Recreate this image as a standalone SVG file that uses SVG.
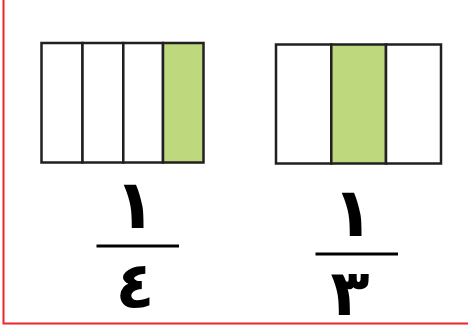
<svg xmlns="http://www.w3.org/2000/svg" width="468" height="330" viewBox="0 0 468 330">
<style>
.cell{fill:#ffffff;stroke:#231f20;stroke-width:2.5}
.fill{fill:#bed97d}
.bar{stroke:#000;stroke-width:3}
.num{font-family:"DejaVu Sans",sans-serif;font-size:64px;font-weight:bold;fill:#000;text-anchor:middle}
.one{font-size:68px}
.frame{stroke:#e8262c;stroke-width:2;fill:none}
</style>
<path class="frame" d="M3.5,0 V323.5 H468"/>
<g id="quarter">
<rect class="cell" x="41.5" y="43" width="41" height="119.5"/>
<rect class="cell" x="82.5" y="43" width="40.8" height="119.5"/>
<rect class="cell" x="123.3" y="43" width="39.7" height="119.5"/>
<rect class="cell fill" x="163" y="43" width="40.5" height="119.5"/>
</g>
<g id="third">
<rect class="cell" x="276" y="44.5" width="55.3" height="119"/>
<rect class="cell fill" x="331.3" y="44.5" width="54.7" height="119"/>
<rect class="cell" x="386" y="44.5" width="55" height="119"/>
</g>
<g id="frac-quarter">
<text class="num one" x="135" y="228">١</text>
<line class="bar" x1="96.5" y1="246" x2="179" y2="246"/>
<text class="num" x="135" y="308">٤</text>
</g>
<g id="frac-third">
<text class="num one" x="353" y="236">١</text>
<line class="bar" x1="315.5" y1="254" x2="398" y2="254"/>
<text class="num" x="350" y="315">٣</text>
</g>
</svg>
